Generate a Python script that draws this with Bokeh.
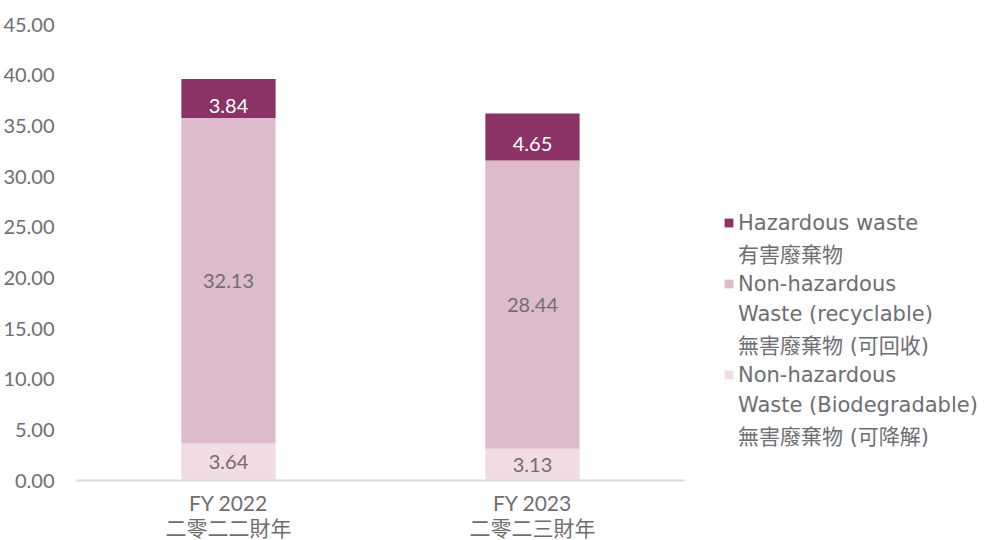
from bokeh.plotting import figure
from bokeh.models import ColumnDataSource, LabelSet, Legend, LegendItem, NumeralTickFormatter, FixedTicker
from bokeh.core.properties import value
from bokeh.embed import file_html
from bokeh.resources import INLINE

# ---- data ----
years = ["FY 2022\n二零二二財年", "FY 2023\n二零二三財年"]
biodegradable = [3.64, 3.13]
recyclable = [32.13, 28.44]
hazardous = [3.84, 4.65]
series_lines = [
    ["Non-hazardous", "Waste (Biodegradable)", "無害廢棄物 (可降解)"],
    ["Non-hazardous", "Waste (recyclable)", "無害廢棄物 (可回收)"],
    ["Hazardous waste", "有害廢棄物"],
]
colors = ["#F1DCE4", "#DDBBCB", "#8B3365"]
y_ticks = [0, 5, 10, 15, 20, 25, 30, 35, 40, 45]

FONT = "Lato, Noto Sans CJK TC"
LEG_FONT = "DejaVu Sans, Noto Sans CJK TC"
GRAY = "#6E6E72"

src = ColumnDataSource(dict(x=years, bio=biodegradable, rec=recyclable, haz=hazardous))

p = figure(x_range=years, y_range=(0, 45),
           frame_width=608, frame_height=456,
           min_border_left=75, min_border_top=24, min_border_bottom=56, min_border_right=297,
           output_backend="svg", toolbar_location=None)

rs = p.vbar_stack(["bio", "rec", "haz"], x="x", width=0.31, color=colors, source=src, line_width=0)
ghost = p.scatter(x=[], y=[], alpha=0)

# value labels
def seg_labels(bottoms, vals):
    return ColumnDataSource(dict(
        x=years,
        y=[b + v / 2 for b, v in zip(bottoms, vals)],
        t=[f"{v:.2f}" for v in vals],
    ))

rec_bottom = biodegradable
haz_bottom = [b + r for b, r in zip(biodegradable, recyclable)]
for s, col, off in [(seg_labels([0, 0], biodegradable), GRAY, 0),
                    (seg_labels(rec_bottom, recyclable), GRAY, 0),
                    (seg_labels(haz_bottom, hazardous), "#FFFFFF", -7)]:
    p.add_layout(LabelSet(x="x", y="y", text="t", source=s, text_color=col,
                          text_align="center", text_baseline="middle", y_offset=off,
                          text_font=value(FONT), text_font_size="20px"))

# axes
p.xgrid.grid_line_color = None
p.ygrid.grid_line_color = None
p.outline_line_color = None
p.yaxis.ticker = FixedTicker(ticks=y_ticks)
p.yaxis.formatter = NumeralTickFormatter(format="0.00")
p.yaxis.axis_line_color = None
p.yaxis.major_tick_line_color = None
p.yaxis.minor_tick_line_color = None
p.yaxis.major_label_text_font = FONT
p.yaxis.major_label_text_font_size = "20px"
p.yaxis.major_label_text_color = GRAY
p.yaxis.major_label_standoff = 16
p.xaxis.axis_line_color = "#D9D9D9"
p.xaxis.axis_line_width = 2
p.xaxis.major_tick_line_color = None
p.xaxis.minor_tick_line_color = None
p.xaxis.major_label_text_font = FONT
p.xaxis.major_label_text_font_size = "21px"
p.xaxis.major_label_text_color = GRAY
p.xaxis.major_label_text_line_height = 1.0
p.xaxis.major_label_standoff = 3
p.x_range.range_padding = 0.0

# legend: first line of each series carries the swatch
items = []
for i in [2, 1, 0]:
    lines = series_lines[i]
    items.append(LegendItem(label=lines[0], renderers=[rs[i]]))
    for ln in lines[1:]:
        items.append(LegendItem(label=ln, renderers=[ghost]))
legend = Legend(items=items, location=(39, 30), border_line_color=None,
                background_fill_alpha=0, label_text_font=LEG_FONT, label_text_font_size="21px",
                label_text_color=GRAY, glyph_width=11, glyph_height=11, spacing=1,
                label_height=29, label_standoff=4, padding=0, margin=0)
p.add_layout(legend, "right")

open("out.html", "w").write(file_html(p, INLINE))
